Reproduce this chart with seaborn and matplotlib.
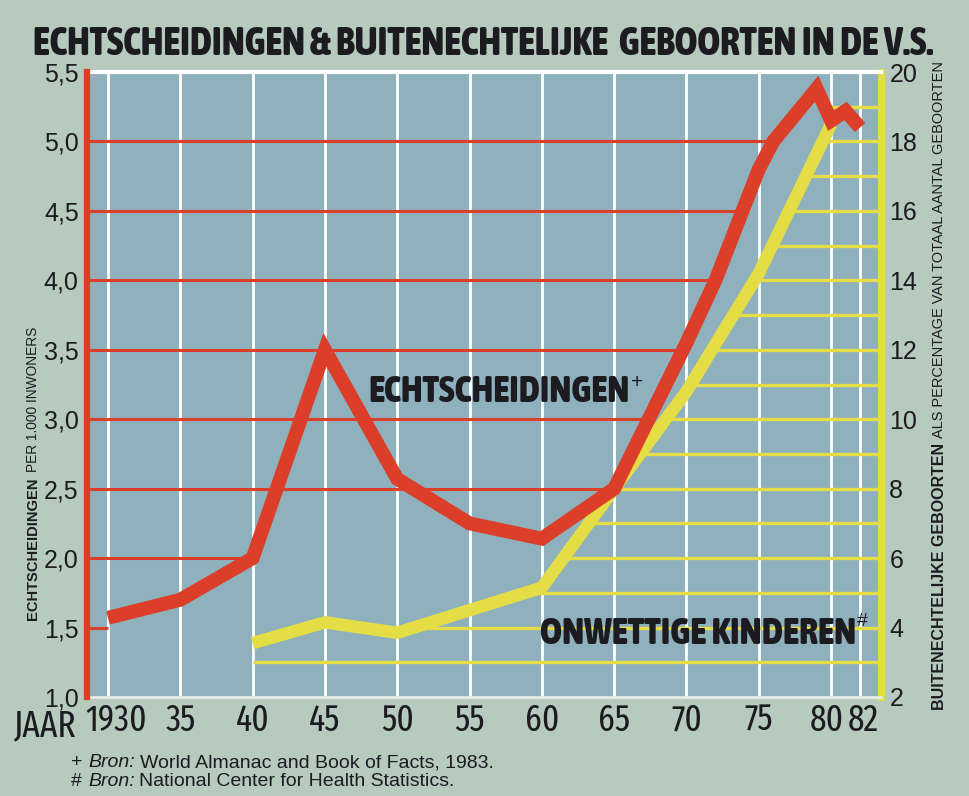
import numpy as np
import pandas as pd
import matplotlib
matplotlib.use("Agg")
import matplotlib.pyplot as plt
import matplotlib.transforms as mtransforms
from matplotlib import font_manager
from matplotlib.font_manager import FontProperties
import seaborn as sns

# echtscheidingen per 1.000 inwoners (linker as)
jaar_echt = [1930, 1935, 1940, 1945, 1950, 1955, 1960, 1965, 1970, 1972, 1975, 1976, 1979, 1980, 1981, 1982]
echtscheidingen = [1.57, 1.70, 2.0, 3.5, 2.57, 2.25, 2.14, 2.5, 3.55, 4.0, 4.8, 5.0, 5.38, 5.15, 5.22, 5.1]

# buitenechtelijke geboorten in % (rechter as)
jaar_onw = [1940, 1945, 1950, 1955, 1960, 1965, 1970, 1975, 1980]
onwettig = [3.55, 4.15, 3.85, 4.5, 5.15, 8.0, 10.8, 14.2, 18.5]

x_ticks = [1930, 1935, 1940, 1945, 1950, 1955, 1960, 1965, 1970, 1975, 1980, 1982]
x_labels = ["1930", "35", "40", "45", "50", "55", "60", "65", "70", "75", "80", "82"]
left_ticks = [1.0, 1.5, 2.0, 2.5, 3.0, 3.5, 4.0, 4.5, 5.0, 5.5]
right_ticks = [2, 4, 6, 8, 10, 12, 14, 16, 18, 20]

W, H = 969, 796
BG = "#b6cabe"
PLOT = "#8fb1bd"
RED = "#db3e29"
YEL = "#e4dd45"
INK = "#1b1b20"


def pick(*names):
    avail = {f.name for f in font_manager.fontManager.ttflist}
    for n in names:
        if n in avail:
            return n
    return "DejaVu Sans"


SANS = pick("Liberation Sans", "DejaVu Sans")

# smalle letter zoeken (Narrow / Condensed), anders gewone schreefloze letter
FAM_RANK = ["liberation sans narrow", "roboto condensed", "open sans condensed",
            "noto sans", "noto sans condensed", "dejavu sans condensed", "dejavu sans"]


def _w(v):
    if isinstance(v, str):
        return font_manager.weight_dict.get(v, 400)
    return int(v)


def condensed(weight=400, style="normal", extra=False):
    best, best_score = None, None
    for f in font_manager.fontManager.ttflist:
        name = f.name.lower()
        st = str(f.stretch).lower()
        fn = f.fname.lower().split("/")[-1]
        is_cond = ("narrow" in name or "condensed" in name or "condensed" in st
                   or "condensed" in fn or "narrow" in fn)
        if not is_cond or "cjk" in name or "mono" in name or "serif" in name:
            continue
        is_extra = "extracondensed" in fn or "extra-condensed" in st or "extra condensed" in name
        if "semicondensed" in fn or "ultracondensed" in fn or "semi" in st:
            continue
        if is_extra and not extra:
            continue
        rank = FAM_RANK.index(name) if name in FAM_RANK else len(FAM_RANK)
        style_pen = 0 if (f.style == "normal") == (style == "normal") else 1000
        extra_pen = 0 if (is_extra == extra) else 300
        score = abs(_w(f.weight) - weight) + style_pen + extra_pen + rank * 5
        if best_score is None or score < best_score:
            best, best_score = f.fname, score
    if best is None:
        return FontProperties(family=SANS, weight=weight, style=style)
    return FontProperties(fname=best)


FP_REG = condensed(400)
FP_TALL = condensed(400, extra=True)
FP_BOLD = condensed(800)

sns.set_theme(style="white")
plt.rcParams["font.family"] = [SANS, "DejaVu Sans"]


def last_cross(xs, ys, level):
    # laatste punt waar de curve het niveau kruist (voor de hulplijnen)
    xs, ys = np.asarray(xs, float), np.asarray(ys, float)
    idx = np.where(ys <= level)[0]
    if len(idx) == 0:
        return xs[0]
    i = idx[-1]
    if i == len(xs) - 1:
        return xs[-1]
    return np.interp(level, [ys[i], ys[i + 1]], [xs[i], xs[i + 1]])


def px(x, y):
    return x / W, 1 - y / H


fig = plt.figure(figsize=(W / 100, H / 100), dpi=100, facecolor=BG)
axL = fig.add_axes([87 / W, 1 - 697 / H, (881 - 87) / W, (697 - 72) / H])
axR = axL.twinx()
axL.set_zorder(axR.get_zorder() + 1)
axL.patch.set_visible(False)
axR.patch.set_visible(True)
axR.patch.set_facecolor(PLOT)

xmin, xmax = 1928.55, 1983.45
axL.set_xlim(xmin, xmax)
axL.set_ylim(1.0, 5.5)
axR.set_ylim(2, 20)

# witte verticale rasterlijnen
axR.vlines(x_ticks, 2, 20, colors="white", linewidth=2, zorder=1)

# gele hulplijnen vanaf de rechter as
geel_niveaus = list(range(3, 20))
starts = [last_cross(jaar_onw, onwettig, lv) for lv in geel_niveaus]
axR.hlines(geel_niveaus, starts, xmax, colors=YEL, linewidth=2.4, zorder=2)

df_onw = pd.DataFrame({"jaar": jaar_onw, "pct": onwettig})
sns.lineplot(data=df_onw, x="jaar", y="pct", ax=axR, color=YEL, linewidth=9,
             solid_joinstyle="miter", solid_capstyle="butt", zorder=3)

# rode hulplijnen vanaf de linker as
rood_niveaus = [1.5, 2.0, 2.5, 3.0, 3.5, 4.0, 4.5, 5.0]
ends = [last_cross(jaar_echt, echtscheidingen, lv) for lv in rood_niveaus]
axL.hlines(rood_niveaus, xmin, ends, colors=RED, linewidth=2.2, zorder=2)

df_echt = pd.DataFrame({"jaar": jaar_echt, "rate": echtscheidingen})
sns.lineplot(data=df_echt, x="jaar", y="rate", ax=axL, color=RED, linewidth=10,
             solid_joinstyle="miter", solid_capstyle="butt", zorder=3)

# assen
for s in ["top", "bottom", "right"]:
    axL.spines[s].set_visible(False)
axL.spines["left"].set_color(RED)
axL.spines["left"].set_linewidth(4.5)
axR.spines["left"].set_visible(False)
axR.spines["right"].set_color(YEL)
axR.spines["right"].set_linewidth(5)
axR.spines["top"].set_color("white")
axR.spines["top"].set_linewidth(3)
axR.spines["bottom"].set_color("#e6ece7")
axR.spines["bottom"].set_linewidth(2)

axL.set_xlabel("")
axL.set_ylabel("")
axR.set_xlabel("")
axR.set_ylabel("")

axL.set_yticks(left_ticks)
axL.set_yticklabels([f"{v:.1f}".replace(".", ",") for v in left_ticks])
axL.tick_params(axis="y", length=0, pad=6, labelsize=18, labelcolor=INK)
axR.set_yticks(right_ticks)
axR.set_yticklabels([str(v) for v in right_ticks])
axR.tick_params(axis="y", length=0, pad=6, labelsize=18, labelcolor=INK)
axL.set_xticks(x_ticks)
axL.set_xticklabels(x_labels)
axL.tick_params(axis="x", length=0, pad=4, labelcolor=INK)
for lab in axL.get_xticklabels():
    lab.set_fontproperties(FP_TALL)
    lab.set_fontsize(26)
axL.grid(False)
axR.grid(False)

fig.canvas.draw()
R = fig.canvas.get_renderer()


def fit(t, size, vertical=False, max_pt=None):
    bb = t.get_window_extent(R)
    cur = bb.height if vertical else bb.width
    new = t.get_fontsize() * size / cur
    if max_pt is not None:
        new = min(new, max_pt)
    t.set_fontsize(new)


def place_after(t, gap=0, vertical=False):
    bb = t.get_window_extent(R)
    if vertical:
        return bb.y1 + gap
    return bb.x1 + gap


def shift(t, dx_px):
    t.set_transform(t.get_transform() + mtransforms.ScaledTranslation(dx_px / 100, 0, fig.dpi_scale_trans))


# x-labels zo breed als in het origineel ("1930" ~62 px), cijfers max ~27 px hoog
labs = axL.get_xticklabels()
w0 = labs[0].get_window_extent(R).width
new_size = min(labs[0].get_fontsize() * 62 / w0, 26)
for lab in labs:
    lab.set_fontsize(new_size)
# kleine verschuivingen zoals in het origineel
shift(labs[0], 8)
shift(labs[-2], -4)
shift(labs[-1], 3)

# titel
title = fig.text(*px(33, 55), "ECHTSCHEIDINGEN & BUITENECHTELIJKE  GEBOORTEN IN DE V.S.",
                 fontproperties=FP_BOLD, color=INK, ha="left", va="baseline")
title.set_fontsize(30)
fit(title, 899)

# JAAR
jaar = fig.text(*px(14, 736), "JAAR", fontproperties=FP_TALL, color=INK,
                ha="left", va="baseline")
jaar.set_fontsize(26)
fit(jaar, 64, max_pt=new_size)

# linker aslabel
t1 = fig.text(*px(33, 620), "ECHTSCHEIDINGEN", rotation=90, fontweight="bold",
              fontsize=10, color=INK, ha="center", va="bottom")
fit(t1, 142, vertical=True)
fig.canvas.draw()
y_next = place_after(t1, 5, vertical=True)
t2 = fig.text(33 / W, y_next / H, "PER 1.000 INWONERS", rotation=90,
              fontsize=8, color=INK, ha="center", va="bottom")
fit(t2, 146, vertical=True)

# rechter aslabel
r1 = fig.text(*px(939, 710), "BUITENECHTELIJKE GEBOORTEN", rotation=90, fontweight="bold",
              fontsize=10, color=INK, ha="center", va="bottom")
fit(r1, 265, vertical=True)
fig.canvas.draw()
y_next = place_after(r1, 5, vertical=True)
r2 = fig.text(939 / W, y_next / H, "ALS PERCENTAGE VAN TOTAAL AANTAL GEBOORTEN", rotation=90,
              fontsize=8, color=INK, ha="center", va="bottom")
fit(r2, 375, vertical=True)

# reeksnamen in de grafiek
a1 = fig.text(*px(368, 402), "ECHTSCHEIDINGEN", fontproperties=FP_BOLD,
              color=INK, ha="left", va="baseline", zorder=10)
a1.set_fontsize(20)
fit(a1, 259)
a2 = fig.text(*px(540, 644), "ONWETTIGE KINDEREN", fontproperties=FP_BOLD,
              color=INK, ha="left", va="baseline", zorder=10)
a2.set_fontsize(20)
fit(a2, 315)
fig.canvas.draw()
x_sup = place_after(a1, 2)
fig.text(x_sup / W, 1 - 383 / H, "+", fontsize=15, color=INK, ha="left", va="center")
x_sup = place_after(a2, 1)
fig.text(x_sup / W, 1 - 621 / H, "#", fontsize=14, color=INK, ha="left", va="center")

# bronvermelding
for y, sym, rest in [(767, "+ ", "World Almanac and Book of Facts, 1983."),
                     (786, "# ", "National Center for Health Statistics.")]:
    p1 = fig.text(*px(71, y), sym, fontsize=14, color=INK, ha="left", va="baseline")
    fig.canvas.draw()
    p2 = fig.text(place_after(p1, 1) / W, 1 - y / H, "Bron:", fontstyle="italic",
                  fontsize=14, color=INK, ha="left", va="baseline")
    fig.canvas.draw()
    fig.text(place_after(p2, 4) / W, 1 - y / H, rest, fontsize=14, color=INK,
             ha="left", va="baseline")

fig.savefig("out.png", dpi=100, facecolor=BG)
